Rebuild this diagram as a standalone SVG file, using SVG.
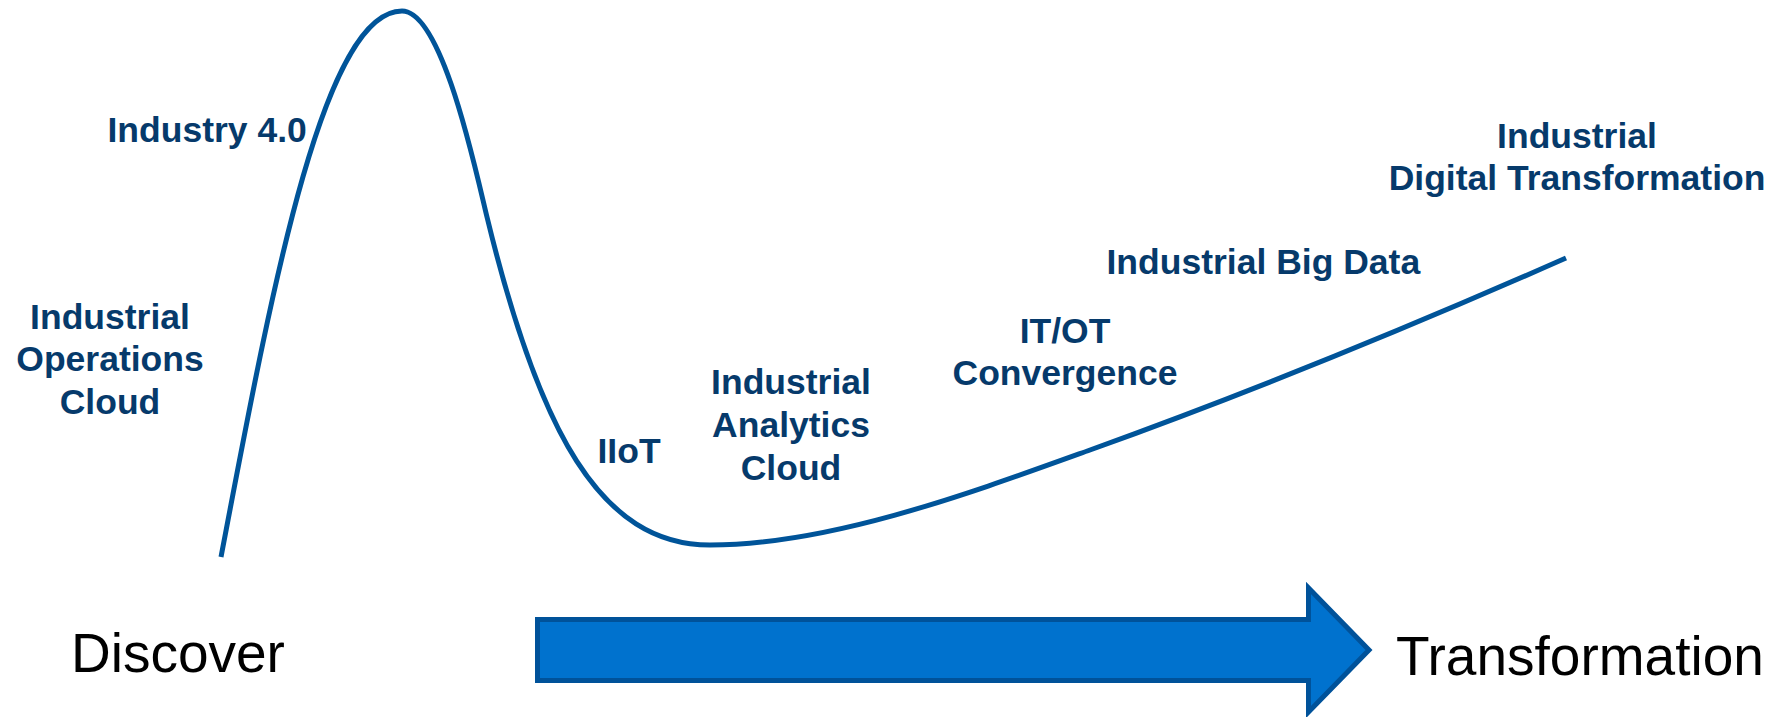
<svg xmlns="http://www.w3.org/2000/svg" width="1787" height="717" viewBox="0 0 1787 717">
<style>
.lbl{font-family:"Liberation Sans",Arial,sans-serif;font-weight:bold;font-size:35.5px;fill:#063a6b}
.mid{text-anchor:middle}
.big{font-family:"Liberation Sans",Arial,sans-serif;font-size:55px;fill:#000}
.curve{fill:none;stroke:#005499;stroke-width:5;stroke-linecap:butt;stroke-linejoin:round}
.arrow{fill:#0072ce;stroke:#00529a;stroke-width:5}
</style>
<rect width="1787" height="717" fill="#fff"/>
<g id="connectors">
<path id="hype-curve" class="curve" d="M221,557 C270,300 322,11 402,11 C442,11 475.2,168.4 487,217 C538.9,430.8 600,545 710,545 C830,545 970,493.2 1090,450 C1250,392.4 1406,328.6 1566,258"/>
<polygon id="progress-arrow" class="arrow" points="537.5,619.5 1308.5,619.5 1308.5,588 1369,650 1308.5,712 1308.5,680.5 537.5,680.5"/>
</g>
<g id="industry40"><text class="lbl" x="107.5" y="142">Industry 4.0</text></g>
<g id="ops-cloud"><text class="lbl mid" x="110" y="329">Industrial</text><text class="lbl mid" x="110" y="371">Operations</text><text class="lbl mid" x="110" y="414">Cloud</text></g>
<g id="iiot"><text class="lbl" x="597.5" y="463">IIoT</text></g>
<g id="analytics-cloud"><text class="lbl mid" x="791" y="394">Industrial</text><text class="lbl mid" x="791" y="437">Analytics</text><text class="lbl mid" x="791" y="480">Cloud</text></g>
<g id="itot"><text class="lbl mid" x="1065" y="343">IT/OT</text><text class="lbl mid" x="1065" y="385">Convergence</text></g>
<g id="big-data"><text class="lbl" x="1106.5" y="274">Industrial Big Data</text></g>
<g id="idt"><text class="lbl mid" x="1577" y="148">Industrial</text><text class="lbl mid" x="1577" y="190">Digital Transformation</text></g>
<g id="discover"><text class="big" x="71" y="672">Discover</text></g>
<g id="transformation"><text class="big" x="1396" y="675">Transformation</text></g>
</svg>
